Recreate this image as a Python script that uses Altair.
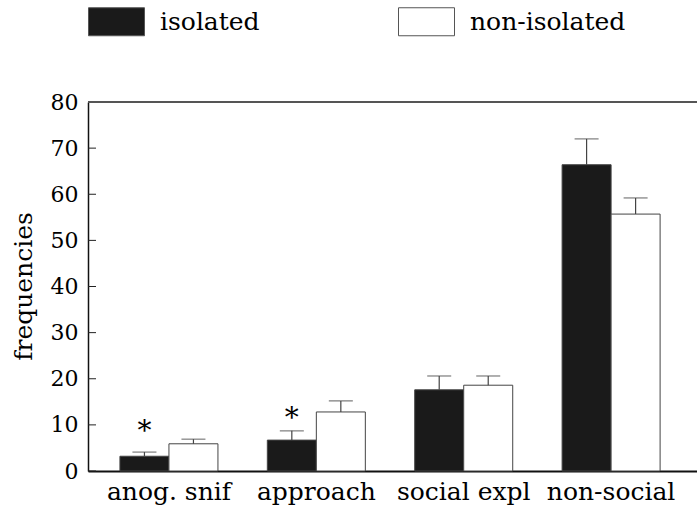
import altair as alt
import pandas as pd

categories = ["anog. snif", "approach", "social expl", "non-social"]
groups = ["isolated", "non-isolated"]
isolated_mean = [3.2, 6.7, 17.6, 66.4]
isolated_err = [0.9, 2.0, 3.0, 5.6]
nonisolated_mean = [5.9, 12.8, 18.6, 55.7]
nonisolated_err = [1.0, 2.4, 2.0, 3.5]
sig_categories = ["anog. snif", "approach"]
sig_heights = [9.3, 12.1]
y_ticks = list(range(0, 81, 10))

rows = []
for c, m, e in zip(categories, isolated_mean, isolated_err):
    rows.append({"cat": c, "group": "isolated", "mean": m, "top": m + e})
for c, m, e in zip(categories, nonisolated_mean, nonisolated_err):
    rows.append({"cat": c, "group": "non-isolated", "mean": m, "top": m + e})
df = pd.DataFrame(rows)
sig = pd.DataFrame({"cat": sig_categories, "group": ["isolated"] * len(sig_categories),
                    "y": sig_heights, "t": ["*"] * len(sig_categories)})
ticks = pd.DataFrame({"v": y_ticks})

FONT = "DejaVu Serif"
INK = "#000000"

xenc = alt.X("cat:N", sort=categories,
             scale=alt.Scale(paddingInner=0.335, paddingOuter=0.2335, align=0.464),
             axis=alt.Axis(title=None, labelAngle=0, ticks=False, domain=True,
                           domainColor="#111", domainWidth=2, labelFont=FONT,
                           labelFontSize=25, labelColor=INK, labelPadding=8))
xoff = alt.XOffset("group:N", sort=groups, scale=alt.Scale(paddingInner=0, paddingOuter=0))
yscale = alt.Scale(domain=[0, 80], nice=False)

bars = alt.Chart(df).mark_bar(stroke="#444", strokeWidth=1).encode(
    x=xenc,
    xOffset=xoff,
    y=alt.Y("mean:Q", scale=yscale,
            axis=alt.Axis(title="frequencies", values=y_ticks, tickSize=0, grid=False,
                          domainColor="#111", domainWidth=1.5, labelFont=FONT,
                          labelFontSize=22, labelColor=INK, labelPadding=10,
                          titleFont=FONT, titleFontSize=25, titleFontWeight="normal",
                          titleColor=INK, titleAngle=-90, titleX=-57, titleY=184,
                          titleAlign="center", titleBaseline="alphabetic")),
    fill=alt.Fill("group:N", sort=groups,
                  scale=alt.Scale(domain=groups, range=["#1a1a1a", "#ffffff"]),
                  legend=alt.Legend(title=None, orient="none", legendX=0, legendY=-109,
                                    direction="horizontal",
                                    symbolType="M-1,-0.5H1V0.5H-1Z", symbolSize=3136,
                                    symbolStrokeColor="#555", symbolStrokeWidth=1,
                                    labelFont=FONT, labelFontSize=25, labelColor=INK,
                                    labelOffset=15, columnPadding=136)),
)

whisk = alt.Chart(df).mark_rule(color="#444", strokeWidth=1.2).encode(
    x=alt.X("cat:N", sort=categories), xOffset=alt.XOffset("group:N", sort=groups),
    y="mean:Q", y2="top:Q")

caps = alt.Chart(df).mark_tick(color="#444", thickness=1.2, size=24).encode(
    x=alt.X("cat:N", sort=categories), xOffset=alt.XOffset("group:N", sort=groups),
    y="top:Q")

stars = alt.Chart(sig).mark_text(font=FONT, fontSize=28, color=INK,
                                 baseline="middle", dy=4).encode(
    x=alt.X("cat:N", sort=categories), xOffset=alt.XOffset("group:N", sort=groups),
    y="y:Q", text="t:N")

inticks = alt.Chart(ticks).mark_rule(color="#222", strokeWidth=1).encode(
    y="v:Q", x=alt.value(0), x2=alt.value(8))

topline = alt.Chart(df).mark_rule(color="#555", strokeWidth=2).encode(y=alt.datum(80))

chart = alt.layer(bars, whisk, caps, stars, inticks, topline).properties(
    width=609, height=369,
    autosize=alt.AutoSizeParams(type="none"),
    padding={"left": 88, "top": 102, "right": 0, "bottom": 37},
).configure_view(stroke=None).configure(background="white")

chart.save("out.html", embed_options={"renderer": "svg", "actions": False})
